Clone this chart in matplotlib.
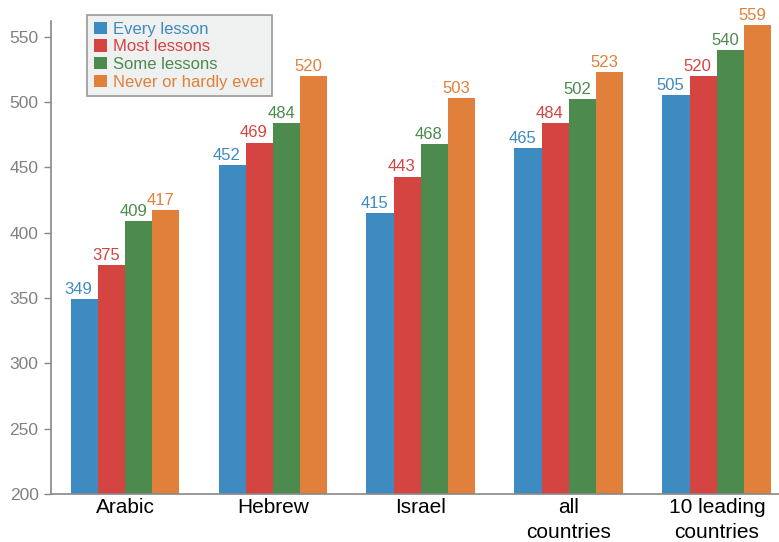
import matplotlib.pyplot as plt
import numpy as np

plt.rcParams['font.family'] = ['Liberation Sans', 'DejaVu Sans']

categories = ["Arabic", "Hebrew", "Israel", "all\ncountries", "10 leading\ncountries"]
series = ["Every lesson", "Most lessons", "Some lessons", "Never or hardly ever"]
every = [349, 452, 415, 465, 505]
most = [375, 469, 443, 484, 520]
some = [409, 484, 468, 502, 540]
never = [417, 520, 503, 523, 559]
colors = ["#3d8bc0", "#d44441", "#4c8a4e", "#e0803a"]

values = [every, most, some, never]

fig = plt.figure(figsize=(7.79, 5.42), dpi=100)
ax = fig.add_axes([0.0655, 0.0886, 0.9345, 0.8726])

x = np.arange(len(categories))
w = 0.184
for i, (name, vals, c) in enumerate(zip(series, values, colors)):
    pos = x + (i - 1.5) * w
    ax.bar(pos, vals, width=w, color=c, label=name, zorder=2)
    for p, v in zip(pos, vals):
        ax.annotate(str(v), (p, v), xytext=(-4, 1.5), textcoords="offset points",
                    ha="center", va="bottom", color=c, fontsize=12)

ax.set_ylim(200, 562)
ax.set_xlim(-0.5, 4.42)
ax.set_yticks(range(200, 551, 50))
ax.set_xticks(x)
ax.set_xticklabels(categories, fontsize=15, color="black", linespacing=1.4, va="top")
ax.tick_params(axis="x", length=0, pad=3)
ax.tick_params(axis="y", labelcolor="#808080", labelsize=12.5, length=5, direction="out",
               width=1, color="#888888", pad=4)

for s in ["top", "right"]:
    ax.spines[s].set_visible(False)
for s in ["left", "bottom"]:
    ax.spines[s].set_color("#888888")
    ax.spines[s].set_linewidth(1.2)

leg = ax.legend(loc="upper left", bbox_to_anchor=(0.05, 1.013), fontsize=12,
                frameon=True, fancybox=False, handlelength=0.75, handleheight=0.75,
                handletextpad=0.4, labelspacing=0.16, borderpad=0.4, borderaxespad=0)
leg.get_frame().set_facecolor("#eff0f0")
leg.get_frame().set_edgecolor("#999999")
leg.get_frame().set_linewidth(1.2)
leg.get_frame().set_alpha(1)
for t, c in zip(leg.get_texts(), colors):
    t.set_color(c)

fig.savefig("out.png", dpi=100)
